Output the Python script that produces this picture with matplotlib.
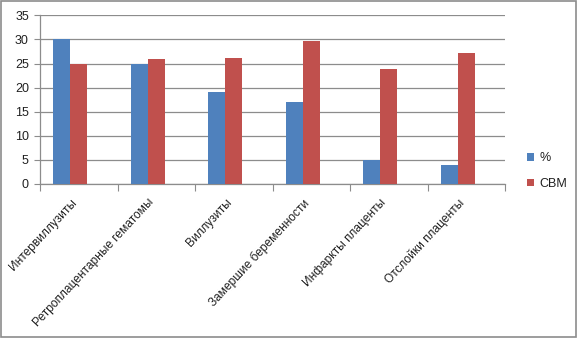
import matplotlib
matplotlib.use("Agg")
import matplotlib.pyplot as plt
import numpy as np
from matplotlib.patches import Rectangle

categories = ["Интервиллузиты", "Ретроплацентарные гематомы", "Виллузиты",
              "Замершие беременности", "Инфаркты плаценты", "Отслойки плаценты"]
pct = [30, 25, 19, 17, 5, 4]
cbm = [25, 26, 26.2, 29.6, 23.8, 27.2]
series_names = ["%", "СВМ"]
yticks = [0, 5, 10, 15, 20, 25, 30, 35]

plt.rcParams['font.family'] = ['Liberation Sans', 'DejaVu Sans']

fig = plt.figure(figsize=(5.78, 3.38), dpi=100)
ax = fig.add_axes([40/578, 1 - 184/338, 465/578, (184 - 15.4)/338])

x = np.arange(len(categories))
w = 0.22
ax.bar(x - w/2, pct, w, color="#4F81BD", label=series_names[0], zorder=3)
ax.bar(x + w/2, cbm, w, color="#C0504D", label=series_names[1], zorder=3)

off = -0.11
ax.set_xlim(-0.5 - off, len(categories) - 0.5 - off)
ax.set_ylim(0, 35)
ax.set_yticks(yticks)
ax.yaxis.grid(True, color="#8C8C8C", linewidth=0.9, zorder=0)
ax.tick_params(axis='y', labelsize=9, colors="#8C8C8C", length=4, width=0.8, pad=4)
for lbl in ax.get_yticklabels():
    lbl.set_color("#202020")

ax.set_xticks(np.arange(len(categories) + 1) - 0.5 - off, minor=False)
ax.set_xticklabels([])
ax.set_xticks(x, minor=True)
ax.set_xticklabels(categories, minor=True, rotation=47, ha='right',
                   rotation_mode='anchor', fontsize=8.6, color="#202020")
ax.tick_params(axis='x', which='major', length=5, width=0.8, colors="#8C8C8C")
ax.tick_params(axis='x', which='minor', length=0, pad=9)

for s in ['top', 'right']:
    ax.spines[s].set_visible(False)
for s in ['left', 'bottom']:
    ax.spines[s].set_color("#8C8C8C")
    ax.spines[s].set_linewidth(0.9)

leg = fig.legend(loc='upper left', bbox_to_anchor=(516/578, 1 - 141/338),
                 frameon=False, fontsize=9, handlelength=0.55, handleheight=0.55,
                 labelspacing=1.1, handletextpad=0.45)
for t in leg.get_texts():
    t.set_color("#202020")

fig.patches.append(Rectangle((0.002, 0.003), 0.995, 0.993, transform=fig.transFigure,
                             fill=False, edgecolor="#8C8C8C", linewidth=1.2))

fig.savefig("out.png", dpi=100)
